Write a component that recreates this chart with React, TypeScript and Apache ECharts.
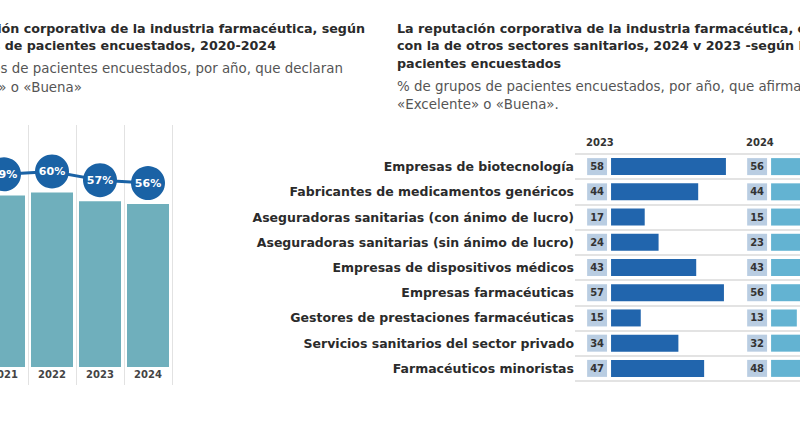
import * as echarts from "echarts";
import React, { useEffect, useRef } from "react";

// left chart: reputation by year (2020 is cut off in the picture)
const years = ["2021", "2022", "2023", "2024"];
const reputacion = [59, 60, 57, 56];

// right chart: sectors 2023 vs 2024
const sectores = [
  "Empresas de biotecnología",
  "Fabricantes de medicamentos genéricos",
  "Aseguradoras sanitarias (con ánimo de lucro)",
  "Aseguradoras sanitarias (sin ánimo de lucro)",
  "Empresas de dispositivos médicos",
  "Empresas farmacéuticas",
  "Gestores de prestaciones farmacéuticas",
  "Servicios sanitarios del sector privado",
  "Farmacéuticos minoristas",
];
const valores2023 = [58, 44, 17, 24, 43, 57, 15, 34, 47];
const valores2024 = [56, 44, 15, 23, 43, 56, 13, 32, 48];

const FONT = "DejaVu Sans";

const txt = (
  text: string,
  x: number,
  y: number,
  font: string,
  fill: string,
  align: string = "left"
) => ({
  type: "text",
  x,
  y,
  style: {
    text,
    font,
    fill,
    align,
    textAlign: align,
    verticalAlign: "middle",
    textVerticalAlign: "middle",
  },
});

const App: React.FC = () => {
  const chartRef = useRef<HTMLDivElement | null>(null);

  useEffect(() => {
    const chart = echarts.init(chartRef.current, null, { renderer: "svg" });
    const titleFont = `bold 12.7px '${FONT}'`;
    const subFont = `13.4px '${FONT}'`;

    chart.setOption({
      animation: false,
      textStyle: { fontFamily: FONT },
      graphic: [
        // left titles (start cut off by the picture's edge)
        txt("La reputación corporativa de la industria farmacéutica, según", 365, 28, titleFont, "#2a2a2a", "right"),
        txt("grupos de pacientes encuestados, 2020-2024", 276, 45, titleFont, "#2a2a2a", "right"),
        txt("% de grupos de pacientes encuestados, por año, que declaran", 343, 68, subFont, "#555", "right"),
        txt("«Excelente» o «Buena»", 82, 87, subFont, "#555", "right"),
        // right titles
        txt("La reputación corporativa de la industria farmacéutica, comparada", 397, 28, titleFont, "#2a2a2a"),
        txt("con la de otros sectores sanitarios, 2024 v 2023 -según los grupos de", 397, 45, titleFont, "#2a2a2a"),
        txt("pacientes encuestados", 397, 63, titleFont, "#2a2a2a"),
        txt("% de grupos de pacientes encuestados, por año, que afirman", 397, 86, subFont, "#555"),
        txt("«Excelente» o «Buena».", 397, 104, subFont, "#555"),
        txt("2023", 586, 142, `bold 10px '${FONT}'`, "#333"),
        txt("2024", 746, 142, `bold 10px '${FONT}'`, "#333"),
      ],
      grid: [
        { left: -20, top: 125, width: 192, height: 260, outerBoundsMode: "none" },
        { left: 575, top: 154, width: 225, height: 227, outerBoundsMode: "none" },
        { left: 575, top: 154, width: 225, height: 227, outerBoundsMode: "none" },
      ],
      xAxis: [
        {
          gridIndex: 0,
          type: "category",
          data: years,
          axisLine: { show: false },
          axisTick: { show: false },
          splitLine: {
            show: true,
            interval: 0,
            lineStyle: { color: "#e2e2e2", width: 1 },
          },
          axisLabel: {
            interval: 0,
            margin: -16,
            color: "#444",
            fontWeight: "bold",
            fontSize: 10,
          },
        },
        { gridIndex: 1, type: "value", min: -18.2, max: 95.4, show: false },
        { gridIndex: 2, type: "value", min: -99, max: 14.6, show: false },
      ],
      yAxis: [
        { gridIndex: 0, type: "value", min: -6.19, max: 83.2, show: false },
        { gridIndex: 0, type: "value", min: -13.4, max: 75.95, show: false },
        {
          gridIndex: 1,
          type: "category",
          inverse: true,
          data: sectores,
          axisLine: { show: false },
          axisTick: { show: false },
          splitLine: {
            show: true,
            interval: 0,
            lineStyle: { color: "#dadada", width: 1.5 },
          },
          axisLabel: {
            interval: 0,
            margin: 1,
            color: "#2b2b2b",
            fontWeight: "bold",
            fontSize: 12.5,
          },
        },
        {
          gridIndex: 2,
          type: "category",
          inverse: true,
          data: sectores,
          show: false,
        },
      ],
      series: [
        {
          type: "bar",
          xAxisIndex: 0,
          yAxisIndex: 0,
          data: reputacion,
          barWidth: 42,
          itemStyle: { color: "#6fafbc" },
        },
        {
          type: "line",
          xAxisIndex: 0,
          yAxisIndex: 1,
          data: reputacion,
          symbol: "circle",
          symbolSize: 34,
          lineStyle: { color: "#1a62a5", width: 3 },
          itemStyle: { color: "#1a62a5" },
          label: {
            show: true,
            position: "inside",
            formatter: "{c}%",
            color: "#fff",
            fontWeight: "bold",
            fontSize: 11,
          },
          z: 5,
        },
        {
          type: "bar",
          xAxisIndex: 1,
          yAxisIndex: 2,
          data: valores2023,
          barWidth: 17,
          itemStyle: { color: "#2165ad" },
          label: {
            show: true,
            position: "left",
            distance: 4,
            backgroundColor: "#b9cde2",
            padding: [3, 3, 2, 3],
            lineHeight: 12,
            color: "#333",
            fontWeight: "bold",
            fontSize: 10,
          },
        },
        {
          type: "bar",
          xAxisIndex: 2,
          yAxisIndex: 3,
          data: valores2024,
          barWidth: 17,
          itemStyle: { color: "#63b3d2" },
          label: {
            show: true,
            position: "left",
            distance: 4,
            backgroundColor: "#b9cde2",
            padding: [3, 3, 2, 3],
            lineHeight: 12,
            color: "#333",
            fontWeight: "bold",
            fontSize: 10,
          },
        },
      ],
    });

    return () => {
      chart.dispose();
    };
  }, []);

  return (
    <div
      ref={chartRef}
      style={{ position: "fixed", left: 0, top: 0, width: "800px", height: "431px", background: "#fff" }}
    ></div>
  );
};

export default App;
